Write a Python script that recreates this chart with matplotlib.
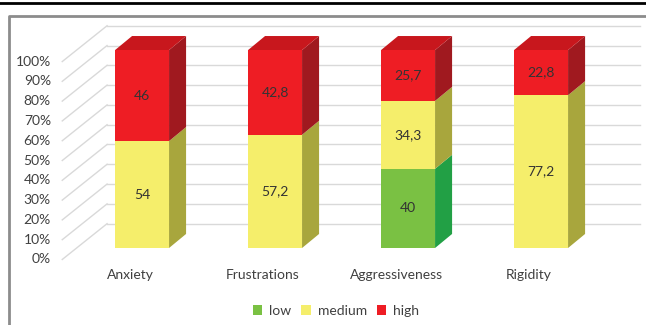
import matplotlib.pyplot as plt
from matplotlib.patches import Polygon, Patch
from matplotlib.lines import Line2D

plt.rcParams['font.family'] = ['Lato', 'DejaVu Sans']

# data
categories = ["Anxiety", "Frustrations", "Aggressiveness", "Rigidity"]
low = [0, 0, 40, 0]
medium = [54, 57.2, 34.3, 77.2]
high = [46, 42.8, 25.7, 22.8]
series_names = ["low", "medium", "high"]
yticks = [0, 10, 20, 30, 40, 50, 60, 70, 80, 90, 100]

front_colors = ["#7AC143", "#F5EE6B", "#EE1D24"]
side_colors = ["#22A045", "#A8A63D", "#A0191F"]
top_colors = ["#5FA832", "#D6CF50", "#C8171D"]

W, H = 646, 325
fig = plt.figure(figsize=(W / 100, H / 100), dpi=100)
ax = fig.add_axes([0, 0, 1, 1])
ax.set_xlim(-1.068, 3.789)
ax.set_ylim(-38.9, 125.3)
ax.axis('off')

# 3d-ish geometry
bw = 0.406          # bar front width
dx, dy = 0.128, 7.1  # depth offset of the bars
back_off = 12.3      # back wall offset in %
front_off = -5.8     # axis label level offset
wall_x0, wall_x1 = -0.263, 3.744
diag_x0 = -0.60

grid_c = "#D9D9D9"
for v in yticks:
    ax.plot([wall_x0, wall_x1], [v + back_off, v + back_off], color=grid_c, lw=1, zorder=1)
    ax.plot([diag_x0, wall_x0], [v + front_off, v + back_off], color=grid_c, lw=1, zorder=1)
    ax.text(-0.685, v + front_off, f"{v}%", ha='right', va='center', fontsize=10, color="#404040")

x = list(range(len(categories)))
bottom = [0] * len(categories)
for k, vals in enumerate([low, medium, high]):
    bars = ax.bar(x, vals, bw, bottom=bottom, color=front_colors[k], zorder=3)
    for i, v in enumerate(vals):
        if v == 0:
            continue
        b = bottom[i]
        t = b + v
        xr = x[i] + bw / 2
        xl = x[i] - bw / 2
        ax.add_patch(Polygon([(xr, b), (xr + dx, b + dy), (xr + dx, t + dy), (xr, t)],
                             closed=True, facecolor=side_colors[k], edgecolor='none', zorder=2))
        if t >= 99.9:
            ax.add_patch(Polygon([(xl, t), (xl + dx, t + dy), (xr + dx, t + dy), (xr, t)],
                                 closed=True, facecolor=top_colors[k], edgecolor='none', zorder=2))
        label = f"{v:g}".replace(".", ",")
        ax.text(x[i], b + v / 2, label, ha='center', va='center', fontsize=10,
                color="#333333", zorder=4)
    bottom = [bottom[i] + vals[i] for i in range(len(vals))]

for i, c in enumerate(categories):
    ax.text(x[i] - 0.09, -13.6, c, ha='center', va='center', fontsize=10, color="#404040")

handles = [Patch(facecolor=front_colors[k], edgecolor='none') for k in range(3)]
fig.legend(handles, series_names, loc='center', bbox_to_anchor=(336 / W, 14 / H), ncol=3,
           frameon=False, fontsize=10, handlelength=0.7, handleheight=0.7,
           handletextpad=0.5, columnspacing=0.7, labelcolor="#404040")

# outer frame
fig.add_artist(Line2D([0, 1], [1 - 2.5 / H, 1 - 2.5 / H], color="black", lw=2))
fig.add_artist(Line2D([8.5 / W, 8.5 / W, 1], [0, 1 - 15.5 / H, 1 - 15.5 / H], color="#8C8C8C", lw=2))

fig.savefig("out.png", dpi=100)
